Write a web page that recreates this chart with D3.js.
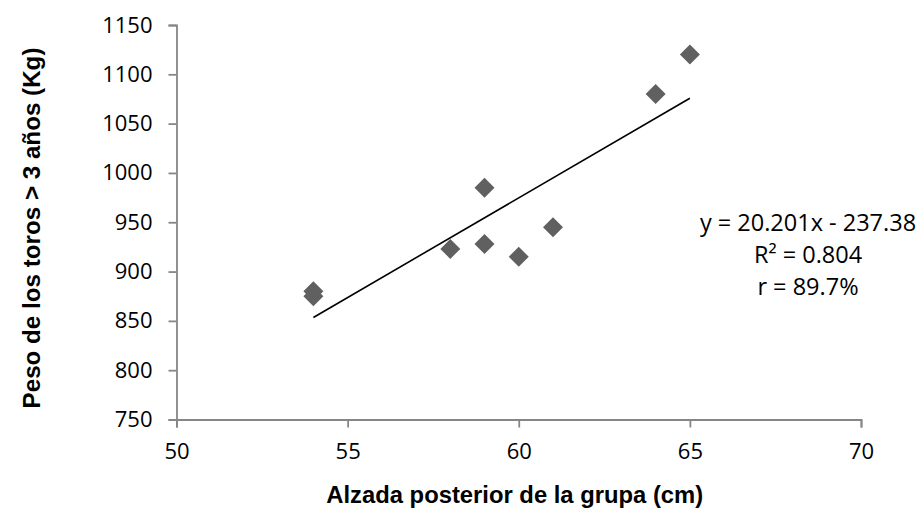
<!DOCTYPE html>
<html>
<head>
<meta charset="utf-8">
<script src="https://cdn.jsdelivr.net/npm/d3@7"></script>
<style>
  html, body { margin: 0; padding: 0; background: #fff; }
  svg { display: block; }
</style>
</head>
<body>
<svg id="chart" width="920" height="511"></svg>
<script>
// Data
const alzada = [54, 54, 58, 59, 59, 60, 61, 64, 65];
const peso   = [880, 875, 923, 985, 928, 915, 945, 1080, 1120];
const xTicks = [50, 55, 60, 65, 70];
const yTicks = [750, 800, 850, 900, 950, 1000, 1050, 1100, 1150];
const slope = 20.201, intercept = -237.38;
const trendX = [54, 65];
const eqLines = ["y = 20.201x - 237.38", "R² = 0.804", "r = 89.7%"];
const xTitle = "Alzada posterior de la grupa (cm)";
const yTitle = "Peso de los toros > 3 años (Kg)";

const svg = d3.select("#chart");
const mLeft = 176.5, mRight = 861, mTop = 25, mBottom = 419.5;

const x = d3.scaleLinear().domain([50, 70]).range([mLeft, mRight]);
const y = d3.scaleLinear().domain([750, 1150]).range([mBottom, mTop]);

const axisColor = "#868686";
const tickFont = "'Open Sans', sans-serif";

// X axis
const gx = svg.append("g").attr("transform", `translate(0,${mBottom})`)
  .call(d3.axisBottom(x).tickValues(xTicks).tickSize(8).tickPadding(16).tickFormat(d3.format("d")));
// Y axis
const gy = svg.append("g").attr("transform", `translate(${mLeft},0)`)
  .call(d3.axisLeft(y).tickValues(yTicks).tickSize(8).tickPadding(16).tickFormat(d3.format("d")));

[gx, gy].forEach(g => {
  g.select(".domain").attr("stroke", axisColor).attr("stroke-width", 1.8);
  g.selectAll(".tick line").attr("stroke", axisColor).attr("stroke-width", 1.8);
  g.selectAll(".tick text").attr("fill", "#000")
    .style("font-family", tickFont).style("font-size", "22px");
});

// Trend line
svg.append("line")
  .attr("x1", x(trendX[0])).attr("y1", y(slope * trendX[0] + intercept))
  .attr("x2", x(trendX[1])).attr("y2", y(slope * trendX[1] + intercept))
  .attr("stroke", "#000").attr("stroke-width", 1.6);

// Points
const diamond = d3.symbol().type(d3.symbolSquare).size(200);
svg.append("g").selectAll("path")
  .data(alzada.map((a, i) => [a, peso[i]]))
  .join("path")
  .attr("d", diamond)
  .attr("transform", d => `translate(${x(d[0])},${y(d[1])}) rotate(45)`)
  .attr("fill", "#606060");

// Equation text
const eq = svg.append("text")
  .attr("text-anchor", "middle")
  .style("font-family", tickFont).style("font-size", "23.5px").attr("fill", "#000");
eqLines.forEach((t, i) => {
  eq.append("tspan").attr("x", 808).attr("y", 231 + i * 32).text(t);
});

// Axis titles
svg.append("text")
  .attr("x", (mLeft + mRight) / 2 - 4).attr("y", 503)
  .attr("text-anchor", "middle")
  .style("font-family", "'Liberation Sans', Arial, sans-serif")
  .style("font-weight", "bold").style("font-size", "23.8px")
  .text(xTitle);

svg.append("text")
  .attr("transform", `translate(40,228) rotate(-90)`)
  .attr("text-anchor", "middle")
  .style("font-family", "'Liberation Sans', Arial, sans-serif")
  .style("font-weight", "bold").style("font-size", "24.2px")
  .text(yTitle);
</script>
</body>
</html>
